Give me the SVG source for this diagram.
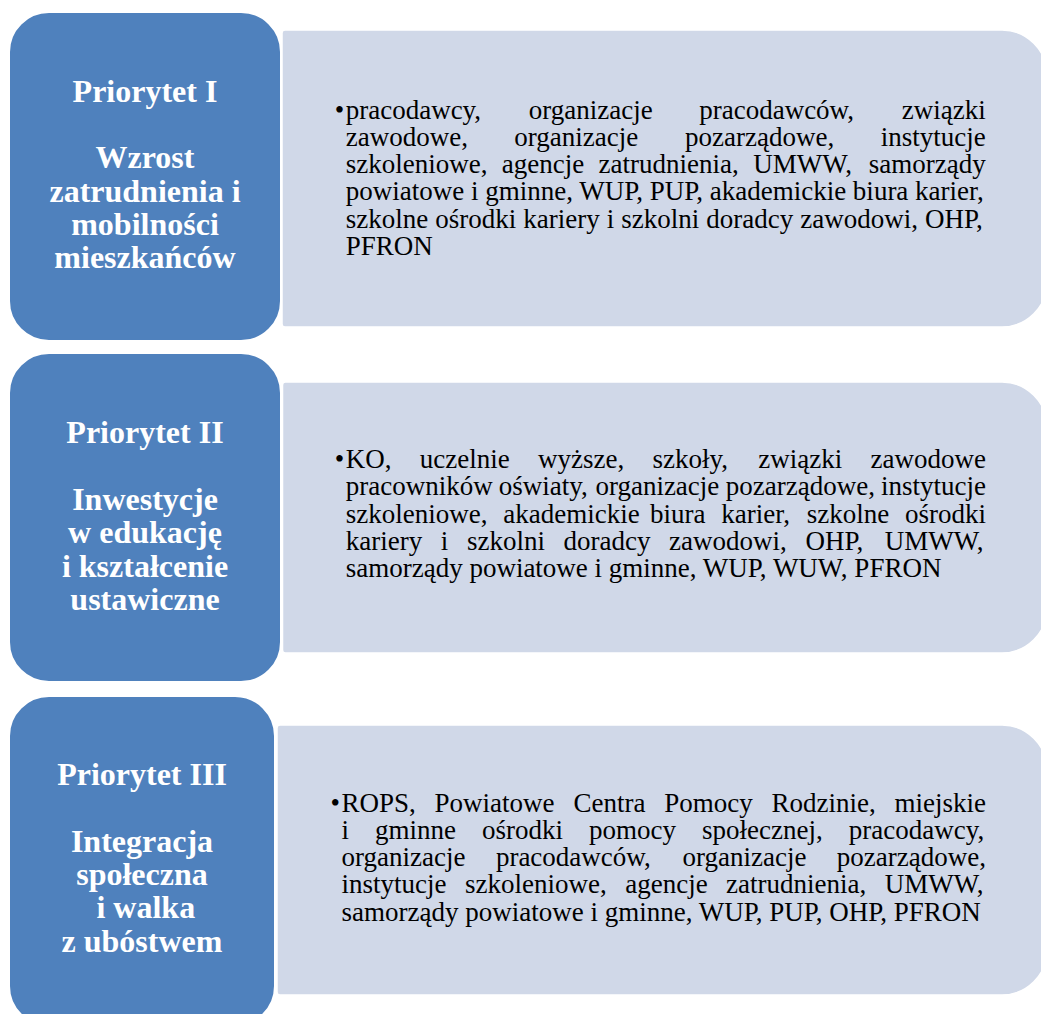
<svg xmlns="http://www.w3.org/2000/svg" width="1041" height="1014" viewBox="0 0 1041 1014">
<style>
.blue{fill:#4F81BD;stroke:#FFFFFF;stroke-width:2}
.light{fill:#D0D8E8;stroke:#FFFFFF;stroke-width:1.5}
.title{font-family:"Liberation Serif","Times New Roman",serif;font-weight:bold;font-size:32px;fill:#FFFFFF;text-anchor:middle}
.body{font-family:"Liberation Serif","Times New Roman",serif;font-size:27px;fill:#000000}
</style>
<rect width="1041" height="1014" fill="#FFFFFF"/>
<g id="connectors"/>

<g id="list1">
<path class="light" d="M285,30 H1002 A45,45 0 0 1 1047,75 V282 A45,45 0 0 1 1002,327 H285 A3,3 0 0 1 282,324 V33 A3,3 0 0 1 285,30 Z"/>
<text class="body" x="334.8" y="118.5">•</text>
<text class="body" y="118.5"><tspan x="345.7">pracodawcy,</tspan><tspan x="528.8">organizacje</tspan><tspan x="699.2">pracodawców,</tspan><tspan x="901.8">związki</tspan></text>
<text class="body" y="145.75"><tspan x="345.7">zawodowe,</tspan><tspan x="514.3">organizacje</tspan><tspan x="685.1">pozarządowe,</tspan><tspan x="880.7">instytucje</tspan></text>
<text class="body" y="173"><tspan x="345.7">szkoleniowe,</tspan><tspan x="501.8">agencje</tspan><tspan x="598.6">zatrudnienia,</tspan><tspan x="753.2">UMWW,</tspan><tspan x="868.8">samorządy</tspan></text>
<text class="body" x="345.7" y="200.25">powiatowe i gminne, WUP, PUP, akademickie biura karier,</text>
<text class="body" x="345.7" y="227.5" word-spacing="0.27">szkolne ośrodki kariery i szkolni doradcy zawodowi, OHP,</text>
<text class="body" x="345.7" y="254.75">PFRON</text>
</g>

<g id="list2">
<path class="light" d="M285.5,382 H1002 A45,45 0 0 1 1047,427 V608 A45,45 0 0 1 1002,653 H285.5 A3,3 0 0 1 282.5,650 V385 A3,3 0 0 1 285.5,382 Z"/>
<text class="body" x="334.8" y="468">•</text>
<text class="body" y="468"><tspan x="345.7">KO,</tspan><tspan x="419.8">uczelnie</tspan><tspan x="538.1">wyższe,</tspan><tspan x="652.6">szkoły,</tspan><tspan x="758.2">związki</tspan><tspan x="870.6">zawodowe</tspan></text>
<text class="body" y="495.25"><tspan x="345.7">pracowników</tspan><tspan x="498.7">oświaty,</tspan><tspan x="595.4">organizacje</tspan><tspan x="725.8">pozarządowe,</tspan><tspan x="881">instytucje</tspan></text>
<text class="body" y="522.5"><tspan x="345.7">szkoleniowe,</tspan><tspan x="503.2">akademickie</tspan><tspan x="650">biura</tspan><tspan x="721.3">karier,</tspan><tspan x="806.8">szkolne</tspan><tspan x="905">ośrodki</tspan></text>
<text class="body" y="549.75"><tspan x="345.7">kariery</tspan><tspan x="440.8">i</tspan><tspan x="466.9">szkolni</tspan><tspan x="563.5">doradcy</tspan><tspan x="669.1">zawodowi,</tspan><tspan x="805.4">OHP,</tspan><tspan x="884.8">UMWW,</tspan></text>
<text class="body" x="345.7" y="577">samorządy powiatowe i gminne, WUP, WUW, PFRON</text>
</g>

<g id="list3">
<path class="light" d="M280,725 H1002 A45,45 0 0 1 1047,770 V950 A45,45 0 0 1 1002,995 H280 A3,3 0 0 1 277,992 V728 A3,3 0 0 1 280,725 Z"/>
<text class="body" x="330.6" y="811.5">•</text>
<text class="body" y="811.5"><tspan x="341.5">ROPS,</tspan><tspan x="434.6">Powiatowe</tspan><tspan x="573.4">Centra</tspan><tspan x="664.2">Pomocy</tspan><tspan x="771.5">Rodzinie,</tspan><tspan x="894.5">miejskie</tspan></text>
<text class="body" y="838.8"><tspan x="341.5">i</tspan><tspan x="375">gminne</tspan><tspan x="482">ośrodki</tspan><tspan x="589">pomocy</tspan><tspan x="702">społecznej,</tspan><tspan x="848.8">pracodawcy,</tspan></text>
<text class="body" y="866.1"><tspan x="341.5">organizacje</tspan><tspan x="495.9">pracodawców,</tspan><tspan x="682.5">organizacje</tspan><tspan x="836.8">pozarządowe,</tspan></text>
<text class="body" y="893.4"><tspan x="341.5">instytucje</tspan><tspan x="465">szkoleniowe,</tspan><tspan x="625.2">agencje</tspan><tspan x="726.1">zatrudnienia,</tspan><tspan x="884.8">UMWW,</tspan></text>
<text class="body" x="341.5" y="920.7">samorządy powiatowe i gminne, WUP, PUP, OHP, PFRON</text>
</g>

<g id="priority1">
<rect class="blue" x="9" y="12" width="272" height="329" rx="40" ry="40"/>
<text class="title" x="145" y="101.7">Priorytet I</text>
<text class="title" x="145" y="168.3">Wzrost</text>
<text class="title" x="145" y="201.6">zatrudnienia i</text>
<text class="title" x="145" y="234.9">mobilności</text>
<text class="title" x="145" y="268.2">mieszkańców</text>
</g>

<g id="priority2">
<rect class="blue" x="9" y="353" width="272" height="329" rx="40" ry="40"/>
<text class="title" x="145" y="443.3">Priorytet II</text>
<text class="title" x="145" y="510">Inwestycje</text>
<text class="title" x="145" y="543.3">w edukację</text>
<text class="title" x="145" y="576.6">i kształcenie</text>
<text class="title" x="145" y="609.9">ustawiczne</text>
</g>

<g id="priority3">
<rect class="blue" x="9" y="696" width="266" height="330" rx="40" ry="40"/>
<text class="title" x="142" y="785">Priorytet III</text>
<text class="title" x="142" y="851.6">Integracja</text>
<text class="title" x="142" y="884.9">społeczna</text>
<text class="title" x="145.8" y="918.2">i walka</text>
<text class="title" x="142" y="951.5">z ubóstwem</text>
</g>
</svg>
